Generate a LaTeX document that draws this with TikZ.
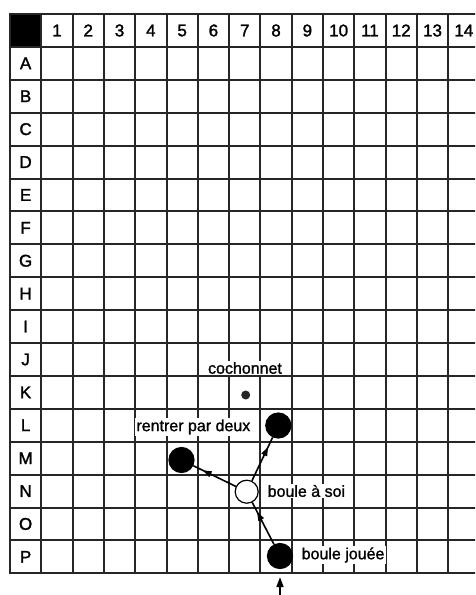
\documentclass[tikz,border=0pt]{standalone}
\usepackage{fontspec}
\setmainfont{Liberation Sans}
\newfontfamily\hdrfont[FakeBold=1.6]{Liberation Sans}
\newfontfamily\lblfont[FakeBold=1.2]{Liberation Sans}
\usetikzlibrary{arrows.meta,decorations.markings}
\begin{document}
\begin{tikzpicture}[x=1pt,y=-1pt,
  gridline/.style={line width=2pt,black!85},
  hdr/.style={font=\hdrfont\fontsize{17}{17}\selectfont,inner sep=0pt},
  ball/.style={circle,draw,line width=1.2pt,minimum size=25pt,inner sep=0pt},
  blackball/.style={ball,fill=black},
  whiteball/.style={ball,fill=white,minimum size=23pt},
  dotball/.style={circle,fill=black!85,minimum size=9pt,inner sep=0pt},
  lbl/.style={fill=white,inner sep=1.5pt,font=\lblfont\fontsize{16}{16}\selectfont},
  movearrow/.style={line width=1.6pt, postaction={decorate},
    decoration={markings, mark=at position 0.78 with {\arrow{Triangle[length=9pt,width=6pt]}}}}
]
\useasboundingbox (0,0) rectangle (475,595);
\fill[white] (0,0) rectangle (475,595);
\begin{scope}
  \clip (0,0) rectangle (475,595);
  \fill[black] (10,14) rectangle (41.3,46.9);
  \foreach \k in {0,...,17} \draw[gridline] (9,{14+32.9*\k}) -- (482,{14+32.9*\k});
  \draw[gridline] (10,13) -- (10,574.3);
  \foreach \k in {0,...,14} \draw[gridline] ({41.3+31.3*\k},14) -- ({41.3+31.3*\k},573.3);
\end{scope}
\foreach \j in {1,...,14} \node[hdr] (c\j) at ({41.3+31.3*(\j-0.5)},30.5) {\j};
\foreach [count=\r] \lt in {A,...,P} \node[hdr] (r\lt) at (25.6,{46.9+32.9*(\r-0.5)}) {\lt};
% labels
\node[lbl] (lcoch) at (245,368) {cochonnet};
\node[lbl,anchor=east] (lrent) at (252,427) {rentrer par deux};
\node[lbl,anchor=west] (lsoi) at (266,491) {boule à soi};
\node[lbl,anchor=west] (ljou) at (300,555) {boule jouée};
% balls
\node[dotball] (coch) at (245.7,395) {};
\node[blackball] (l8) at (278.3,425.5) {};
\node[blackball] (m5) at (181.5,460) {};
\node[whiteball] (wb) at (246.7,491.7) {};
\node[blackball] (p8) at (280,556) {};
% arrows
\draw[movearrow] (wb) -- (m5);
\draw[movearrow] (wb) -- (l8);
\draw[movearrow] (p8) -- (wb);
\coordinate (bot) at (280,598);
\draw[line width=1.6pt,-{Triangle[length=10pt,width=7pt]},shorten >=8pt] (bot) -- (p8);
\end{tikzpicture}
\end{document}
